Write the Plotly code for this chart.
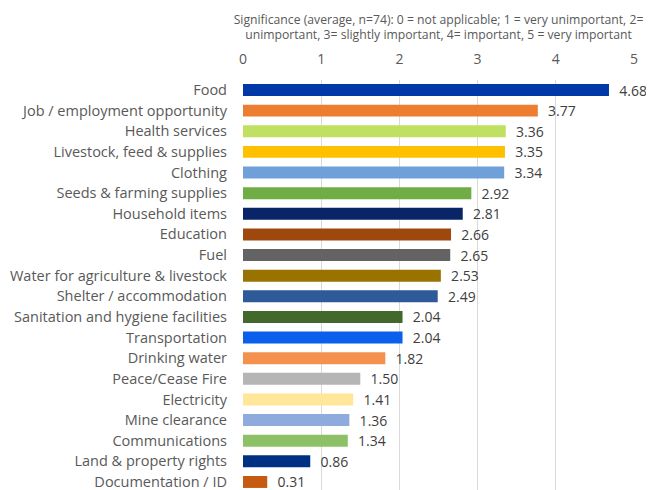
import plotly.graph_objects as go

categories = ["Food", "Job / employment opportunity", "Health services", "Livestock, feed & supplies",
              "Clothing", "Seeds & farming supplies", "Household items", "Education", "Fuel",
              "Water for agriculture & livestock", "Shelter / accommodation",
              "Sanitation and hygiene facilities", "Transportation", "Drinking water",
              "Peace/Cease Fire", "Electricity", "Mine clearance", "Communications",
              "Land & property rights", "Documentation / ID"]
values = [4.68, 3.77, 3.36, 3.35, 3.34, 2.92, 2.81, 2.66, 2.65, 2.53, 2.49, 2.04, 2.04, 1.82,
          1.50, 1.41, 1.36, 1.34, 0.86, 0.31]
colors = ["#0038A8", "#ED7D31", "#BFE060", "#FFC000", "#70A0DA", "#70AD47", "#0A2468", "#9E480E",
          "#636363", "#997300", "#2E5A98", "#43682B", "#0A60EA", "#F4914F", "#B5B5B5", "#FFE699",
          "#8FAADC", "#8CC168", "#003083", "#C55A11"]
tick_vals = [0, 1, 2, 3, 4, 5]
title_text = ("Significance (average, n=74): 0 = not applicable; 1 = very unimportant, 2=<br>"
              "unimportant, 3= slightly important, 4= important, 5 = very important")

FONT = "Open Sans"

fig = go.Figure(go.Bar(
    y=categories, x=values, orientation="h",
    marker=dict(color=colors, line=dict(width=0)),
    width=0.58,
    text=values, texttemplate="  %{x:.2f}", textposition="outside",
    textfont=dict(size=14, color="#404040", family=FONT),
    constraintext="none",
    cliponaxis=False,
))

# page body has an 8px default margin, so the figure is sized/offset to compensate
fig.update_layout(
    width=646, height=482,
    margin=dict(l=235, r=20, t=72, b=0),
    paper_bgcolor="white", plot_bgcolor="white",
    font=dict(family=FONT, color="#595959"),
    showlegend=False,
    xaxis=dict(side="top", range=[0, 5], tickvals=tick_vals, showgrid=True,
               gridcolor="#D9D9D9", gridwidth=1, zeroline=False, showline=False,
               tickfont=dict(size=14, color="#595959"), ticks="",
               ticklabelstandoff=12,
               title=dict(text=title_text, font=dict(size=12.2, color="#595959"), standoff=6)),
    yaxis=dict(categoryorder="array", categoryarray=categories, range=[19.39, -0.485],
               tickfont=dict(size=14.5, color="#595959"), ticks="", showgrid=False,
               ticklabelstandoff=15),
)

fig.write_html("out.html")
